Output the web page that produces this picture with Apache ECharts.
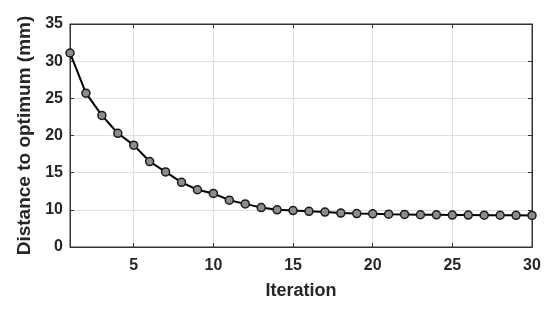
<!DOCTYPE html>
<html>
<head>
<meta charset="utf-8">
<script src="https://cdn.jsdelivr.net/npm/echarts@6/dist/echarts.min.js"></script>
<style>
  html, body { margin: 0; padding: 0; background: #fff; }
  #chart { width: 550px; height: 310px; }
</style>
</head>
<body>
<div id="chart"></div>
<script>
// data
const iterations = [1, 2, 3, 4, 5, 6, 7, 8, 9, 10, 11, 12, 13, 14, 15,
  16, 17, 18, 19, 20, 21, 22, 23, 24, 25, 26, 27, 28, 29, 30];
const distance = [31.1, 25.7, 22.7, 20.3, 18.7, 16.5, 15.1, 13.7, 12.7, 12.2,
  11.3, 10.8, 10.3, 10.0, 9.9, 9.8, 9.7, 9.56, 9.5, 9.47,
  9.42, 9.38, 9.34, 9.33, 9.3, 9.3, 9.28, 9.27, 9.26, 9.25];
const xTicks = [5, 10, 15, 20, 25, 30];
const yTicks = [5, 10, 15, 20, 25, 30, 35];
const yTickLabels = ['0', '10', '15', '20', '25', '30', '35'];

const txt = '#262626';
const font = 'Liberation Sans, Arial, sans-serif';

const chart = echarts.init(document.getElementById('chart'));

const option = {
  animation: false,
  grid: { left: 70, right: 18, top: 24, bottom: 63, show: true, borderColor: '#333', borderWidth: 1 },
  xAxis: [
    {
      type: 'value', min: 1, max: 30,
      name: 'Iteration', nameLocation: 'middle', nameGap: 35,
      nameTextStyle: { color: txt, fontSize: 18, fontWeight: 'bold', fontFamily: font },
      axisLine: { show: true, lineStyle: { color: '#333', width: 1 } },
      axisTick: { inside: true, length: 4, customValues: xTicks, lineStyle: { color: '#333' } },
      axisLabel: { customValues: xTicks, color: txt, fontSize: 16, fontWeight: 'bold', fontFamily: font, margin: 11 },
      splitLine: { show: true, lineStyle: { color: '#dedede', width: 1 } }
    },
    {
      type: 'value', min: 1, max: 30, position: 'top',
      axisLine: { show: true, lineStyle: { color: '#333', width: 1 } },
      axisTick: { inside: true, length: 4, customValues: xTicks, lineStyle: { color: '#333' } },
      axisLabel: { show: false },
      splitLine: { show: false }
    }
  ],
  yAxis: [
    {
      type: 'value', min: 5, max: 35, interval: 5,
      name: 'Distance to optimum (mm)', nameLocation: 'middle', nameGap: 36,
      nameTextStyle: { color: txt, fontSize: 19, fontWeight: 'bold', fontFamily: font },
      axisLine: { show: true, lineStyle: { color: '#333', width: 1 } },
      axisTick: { show: true, inside: true, length: 4, lineStyle: { color: '#333' } },
      axisLabel: {
        color: txt, fontSize: 16, fontWeight: 'bold', fontFamily: font, margin: 7,
        formatter: v => yTickLabels[yTicks.indexOf(v)]
      },
      splitLine: { show: true, lineStyle: { color: '#dedede', width: 1 } }
    },
    {
      type: 'value', min: 5, max: 35, interval: 5, position: 'right',
      axisLine: { show: true, lineStyle: { color: '#333', width: 1 } },
      axisTick: { show: true, inside: true, length: 4, lineStyle: { color: '#333' } },
      axisLabel: { show: false },
      splitLine: { show: false }
    }
  ],
  series: [
    {
      type: 'line',
      data: iterations.map((x, i) => [x, distance[i]]),
      symbol: 'circle',
      symbolSize: 8,
      lineStyle: { color: '#000', width: 2 },
      itemStyle: { color: '#8c8c8c', borderColor: '#1a1a1a', borderWidth: 1.5 },
      z: 5
    }
  ]
};

chart.setOption(option);
</script>
</body>
</html>
